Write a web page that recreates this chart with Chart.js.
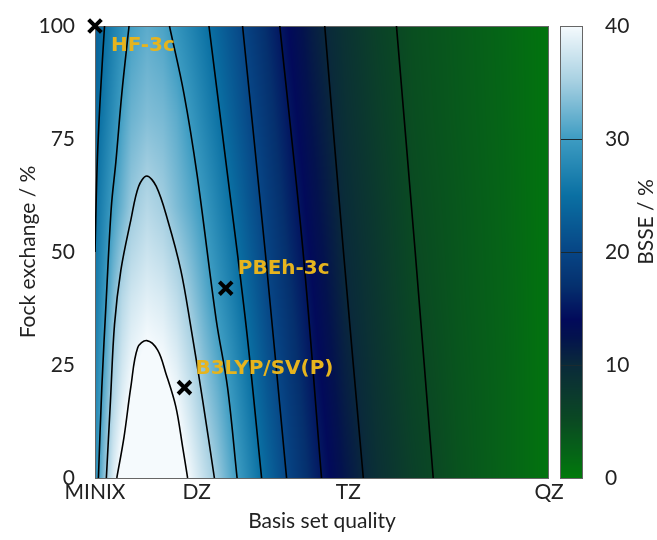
<!DOCTYPE html>
<html>
<head>
<meta charset="utf-8">
<title>BSSE map</title>
<script src="https://cdn.jsdelivr.net/npm/chart.js@4.4.1/dist/chart.umd.min.js"></script>
<style>
  html, body { margin: 0; padding: 0; background: #fff; }
  #wrap { width: 657px; height: 540px; }
</style>
</head>
<body>
<div id="wrap"><canvas id="bsseChart" width="657" height="540"></canvas></div>
<script>
// basis set quality axis (0 = MINIX ... 100 = QZ)
const basisTicks = [0, 22.4, 55.8, 100];
const basisLabels = ['MINIX', 'DZ', 'TZ', 'QZ'];
const fockTicks = [0, 25, 50, 75, 100];
const bsseTicks = [0, 10, 20, 30, 40];

// BSSE grid: columns = basis quality, one array per Fock exchange row
const basisCols = [0, 2, 4, 6, 8, 11.5, 15, 18, 21, 24, 27, 30, 34, 38, 43, 48, 55, 62, 70, 80, 90, 100];
const fockRows = [0, 20, 40, 60, 80, 100];
const bsse0   = [28, 33.6, 38.3, 41.4, 43.1, 44.2, 43.6, 42.0, 39.5, 36.9, 34.3, 31.3, 27.5, 23.8, 19.5, 16.2, 12.2, 9.1, 6.5, 4.1, 2.4, 0.6];
const bsse20  = [27, 31.3, 35.6, 38.3, 40.1, 41.4, 40.8, 39.4, 37.0, 34.2, 31.9, 29.3, 25.6, 22.0, 18.3, 15.1, 11.3, 8.5, 5.9, 3.9, 2.4, 0.6];
const bsse40  = [26, 29.2, 33.0, 36.0, 37.6, 38.7, 38.1, 36.5, 34.2, 31.7, 29.3, 27.0, 23.7, 20.3, 17.1, 14.1, 10.4, 8.0, 5.4, 3.7, 2.3, 0.6];
const bsse60  = [25, 27.6, 30.2, 32.3, 34.4, 36.0, 34.9, 33.1, 31.4, 29.5, 27.3, 25.1, 21.9, 19.0, 15.9, 13.1, 9.7, 7.5, 5.0, 3.6, 2.2, 0.6];
const bsse80  = [24, 26.1, 28.3, 30.5, 32.2, 33.3, 32.8, 31.5, 29.5, 27.4, 25.4, 23.2, 20.3, 17.8, 14.8, 12.2, 9.1, 6.9, 4.7, 3.4, 2.1, 0.6];
const bsse100 = [23, 24.9, 26.8, 28.6, 30.3, 31.5, 30.7, 29.1, 27.4, 25.6, 23.7, 21.7, 19.1, 16.6, 13.8, 11.3, 8.6, 6.4, 4.5, 3.3, 2.0, 0.6];

// contour lines (basis quality, Fock exchange)
const contour40 = [[4.8, 0], [6.4, 9.1], [7.9, 20.2], [9.4, 28.8], [11.4, 30.4], [13.8, 28.3], [15.6, 23.2], [17.8, 15.8], [19.3, 6.9], [20.4, 0]];
const contour35 = [[2.5, 0], [3.4, 17], [4.3, 34], [5.7, 46], [7.9, 57.1], [9.6, 64.5], [11.4, 66.8], [13.5, 64.5], [16.0, 57.1], [18.9, 46], [21.1, 33.5], [23.7, 17.3], [26.3, 0]];
const contour30a = [[0.75, 0], [1.5, 20], [2.5, 40], [3.6, 60], [4.6, 70], [5.9, 85], [7.5, 100]];
const contour30b = [[16.4, 100], [19.6, 85], [22.5, 67], [26.7, 35], [29.2, 20], [31.3, 0]];
const contour25a = [[0, 50], [0.5, 70], [1.2, 85], [2.1, 100]];
const contour25b = [[25.1, 100], [29.2, 67], [33.3, 33.5], [36.7, 0]];
const contour20 = [[32.5, 100], [37.5, 50], [42.2, 0]];
const contour15 = [[40.7, 100], [45.8, 50.4], [49.9, 0]];
const contour10 = [[50.6, 100], [54.7, 50.4], [59.1, 0]];
const contour5 = [[66.4, 100], [70.5, 50.4], [74.5, 0]];

// marked methods
const methodNames = ['HF-3c', 'PBEh-3c', 'B3LYP/SV(P)'];
const methodBasis = [0, 28.8, 19.7];
const methodFock = [100, 42, 20];

const bsseGrid = [bsse0, bsse20, bsse40, bsse60, bsse80, bsse100];
const contours = [contour40, contour35, contour30a, contour30b, contour25a, contour25b, contour20, contour15, contour10, contour5];

// colour palette (BSSE value -> colour)
const paletteStops = [
    [0, [0, 122, 10]], [2, [5, 102, 22]], [5, [10, 74, 34]], [8, [11, 54, 48]], [10, [10, 42, 58]],
    [12.5, [3, 18, 78]], [14, [2, 10, 90]], [17, [5, 48, 110]], [20, [7, 69, 133]], [25, [10, 112, 163]],
    [30, [61, 156, 194]], [35, [165, 207, 225]], [40, [245, 250, 253]]
];

function bsseColor(v) {
    if (v <= paletteStops[0][0]) return paletteStops[0][1];
    for (let i = 1; i < paletteStops.length; i++) {
        const [v1, c1] = paletteStops[i];
        if (v <= v1) {
            const [v0, c0] = paletteStops[i - 1];
            const t = (v - v0) / (v1 - v0);
            return [0, 1, 2].map(k => c0[k] + (c1[k] - c0[k]) * t);
        }
    }
    return paletteStops[paletteStops.length - 1][1];
}

function locate(arr, v) {
    if (v <= arr[0]) return [0, 0, 0];
    for (let i = 1; i < arr.length; i++) {
        if (v <= arr[i]) return [i - 1, i, (v - arr[i - 1]) / (arr[i] - arr[i - 1])];
    }
    return [arr.length - 1, arr.length - 1, 0];
}

const labelColor = '#e6b41e';
const baseFont = 'Lato, "Liberation Sans", sans-serif';
const hiddenGrid = len => ({ display: true, color: 'rgba(0,0,0,0)', drawOnChartArea: false, drawTicks: true, tickLength: len });

const heatmapPlugin = {
    id: 'heatmap',
    beforeDatasetsDraw(chart) {
        const { ctx, chartArea: a, scales: { x, y } } = chart;
        const w = Math.round(a.right - a.left);
        const h = Math.round(a.bottom - a.top);
        const off = document.createElement('canvas');
        off.width = w;
        off.height = h;
        const octx = off.getContext('2d');
        const img = octx.createImageData(w, h);
        const cols = [];
        for (let i = 0; i < w; i++) cols.push(locate(basisCols, x.getValueForPixel(a.left + i + 0.5)));
        for (let j = 0; j < h; j++) {
            const [r0, r1, ty] = locate(fockRows, y.getValueForPixel(a.top + j + 0.5));
            for (let i = 0; i < w; i++) {
                const [c0, c1, tx] = cols[i];
                const lo = bsseGrid[r0][c0] * (1 - tx) + bsseGrid[r0][c1] * tx;
                const hi = bsseGrid[r1][c0] * (1 - tx) + bsseGrid[r1][c1] * tx;
                const c = bsseColor(lo * (1 - ty) + hi * ty);
                const p = (j * w + i) * 4;
                img.data[p] = c[0];
                img.data[p + 1] = c[1];
                img.data[p + 2] = c[2];
                img.data[p + 3] = 255;
            }
        }
        octx.putImageData(img, 0, 0);
        ctx.drawImage(off, a.left, a.top);

        // colour bar next to the right axis
        const cb = chart.scales.cb;
        const bx = cb.left + 11, bw = 23;
        for (let py = Math.floor(cb.top); py < Math.ceil(cb.bottom); py++) {
            const c = bsseColor(cb.getValueForPixel(py + 0.5));
            ctx.fillStyle = `rgb(${c[0]},${c[1]},${c[2]})`;
            ctx.fillRect(bx, py, bw, 1);
        }
        ctx.save();
        ctx.strokeStyle = '#1a2a30';
        ctx.lineWidth = 1;
        [10, 20, 30].forEach(v => {
            const py = Math.round(cb.getPixelForValue(v)) + 0.5;
            ctx.beginPath();
            ctx.moveTo(bx, py);
            ctx.lineTo(bx + bw, py);
            ctx.stroke();
        });
        ctx.strokeStyle = '#666';
        ctx.strokeRect(bx + 0.5, cb.top + 0.5, bw - 1, cb.bottom - cb.top);
        ctx.strokeRect(a.left + 0.5, a.top + 0.5, a.right - a.left - 1, a.bottom - a.top);

        // colour bar title
        ctx.translate(646, 222);
        ctx.rotate(-Math.PI / 2);
        ctx.fillStyle = '#222';
        ctx.font = '21px ' + baseFont;
        ctx.textAlign = 'center';
        ctx.textBaseline = 'middle';
        ctx.fillText('BSSE / %', 0, 0);
        ctx.restore();
    },
    afterDatasetsDraw(chart) {
        const { ctx, scales: { x, y } } = chart;
        const offsets = [[16, 20], [12, -19], [11, -19]];
        ctx.save();
        ctx.fillStyle = labelColor;
        ctx.font = 'bold 20px "DejaVu Sans", sans-serif';
        ctx.textAlign = 'left';
        ctx.textBaseline = 'middle';
        methodNames.forEach((name, i) => {
            const px = x.getPixelForValue(methodBasis[i]);
            const py = y.getPixelForValue(methodFock[i]);
            ctx.fillText(name, px + offsets[i][0], py + offsets[i][1]);
        });
        ctx.restore();
    }
};

const contourSets = contours.map(line => ({
    data: line.map(p => ({ x: p[0], y: p[1] })),
    showLine: true,
    borderColor: '#000',
    borderWidth: 1.6,
    pointRadius: 0,
    tension: 0.35,
    fill: false
}));

const ctx = document.getElementById('bsseChart').getContext('2d');
const bsseChart = new Chart(ctx, {
    type: 'scatter',
    data: {
        datasets: [
            ...contourSets,
            {
                data: methodNames.map((n, i) => ({ x: methodBasis[i], y: methodFock[i] })),
                pointStyle: 'crossRot',
                pointRadius: 9,
                borderColor: '#000',
                borderWidth: 4,
                clip: false
            }
        ]
    },
    plugins: [heatmapPlugin],
    options: {
        responsive: false,
        animation: false,
        devicePixelRatio: 1,
        layout: { padding: { top: 26 } },
        plugins: { legend: { display: false }, tooltip: { enabled: false } },
        scales: {
            x: {
                type: 'linear',
                min: 0,
                max: 100,
                afterBuildTicks: s => { s.ticks = basisTicks.map(v => ({ value: v })); },
                afterFit: s => { s.height = 62; },
                grid: hiddenGrid(0),
                border: { display: false },
                ticks: {
                    autoSkip: false,
                    maxRotation: 0,
                    padding: 2,
                    color: '#222',
                    font: { family: baseFont, size: 21 },
                    callback: v => basisLabels[basisTicks.indexOf(v)]
                },
                title: {
                    display: true,
                    text: 'Basis set quality',
                    color: '#222',
                    font: { family: baseFont, size: 21 },
                    padding: { top: 0, bottom: 6 }
                }
            },
            y: {
                type: 'linear',
                min: 0,
                max: 100,
                afterBuildTicks: s => { s.ticks = fockTicks.map(v => ({ value: v })); },
                afterFit: s => { s.width = 95; },
                grid: hiddenGrid(18),
                border: { display: false },
                ticks: {
                    padding: 2,
                    color: '#222',
                    font: { family: baseFont, size: 21 }
                },
                title: {
                    display: true,
                    text: 'Fock exchange / %',
                    color: '#222',
                    font: { family: baseFont, size: 21 },
                    padding: { top: 16, bottom: 0 }
                }
            },
            cb: {
                type: 'linear',
                position: 'right',
                min: 0,
                max: 40,
                afterBuildTicks: s => { s.ticks = bsseTicks.map(v => ({ value: v })); },
                afterFit: s => { s.width = 108; },
                grid: hiddenGrid(54),
                border: { display: false },
                ticks: {
                    padding: 2,
                    color: '#222',
                    font: { family: baseFont, size: 21 }
                }
            }
        }
    }
});
</script>
</body>
</html>
